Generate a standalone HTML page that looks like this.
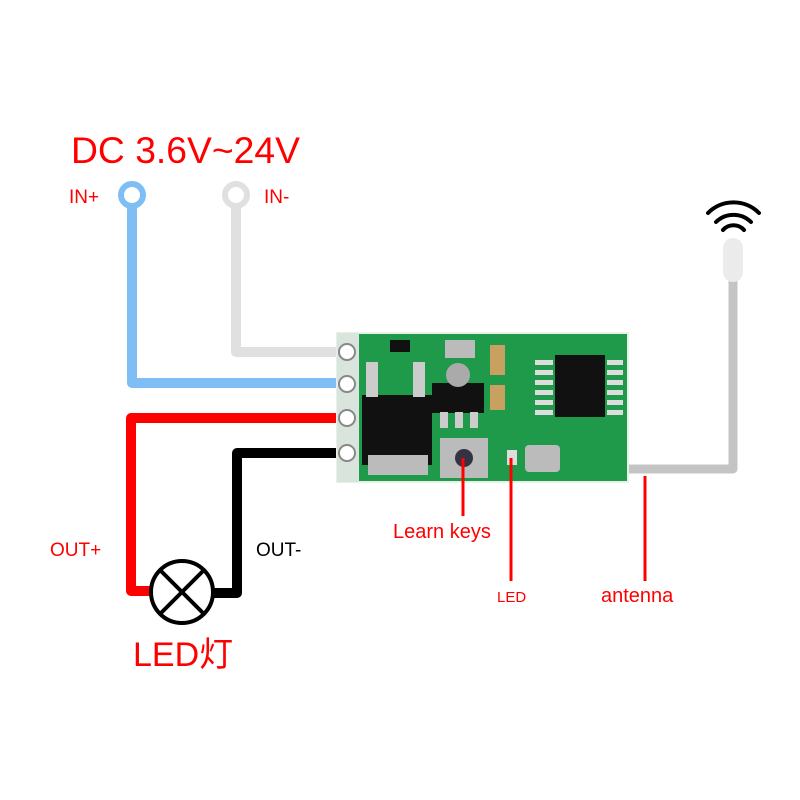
<!DOCTYPE html>
<html><head><meta charset="utf-8"><style>
html,body{margin:0;padding:0;background:#fff;}
svg{display:block}
text{font-family:"Liberation Sans","Noto Sans CJK SC",sans-serif;fill:#f00}
</style></head><body>
<svg width="800" height="800" viewBox="0 0 800 800" xmlns="http://www.w3.org/2000/svg">
<rect width="800" height="800" fill="#fff"/>
<text x="71" y="163" font-size="37" textLength="229" lengthAdjust="spacingAndGlyphs">DC 3.6V~24V</text>
<text x="69" y="203" font-size="19">IN+</text>
<text x="264" y="203" font-size="19">IN-</text>
<!-- wires -->
<path d="M132 205 V383 H345" fill="none" stroke="#7fbef5" stroke-width="10" stroke-linejoin="round"/>
<circle cx="132" cy="195" r="11" fill="none" stroke="#7fbef5" stroke-width="6"/>
<path d="M236 206 V352 H345" fill="none" stroke="#e0e0e0" stroke-width="10" stroke-linejoin="round"/>
<circle cx="236" cy="195" r="11" fill="none" stroke="#e0e0e0" stroke-width="6"/>
<path d="M345 418 H131 V591 H152" fill="none" stroke="#f00" stroke-width="10" stroke-linejoin="round"/>
<path d="M345 453 H237 V593 H212" fill="none" stroke="#000" stroke-width="10" stroke-linejoin="round"/>
<circle cx="182" cy="592" r="31" fill="#fff" stroke="#000" stroke-width="4"/>
<path d="M160 570 L204 614 M204 570 L160 614" stroke="#000" stroke-width="4"/>
<text x="50" y="556" font-size="19">OUT+</text>
<text x="256" y="556" font-size="19" style="fill:#000">OUT-</text>
<text x="133" y="666" font-size="34">LED灯</text>
<!-- antenna -->
<path d="M618 469 H733 V262" fill="none" stroke="#c4c4c4" stroke-width="9" stroke-linejoin="round"/>
<rect x="723" y="238" width="20" height="44" rx="10" fill="#ebebeb"/>
<g fill="none" stroke="#000" stroke-width="4" stroke-linecap="round">
<path d="M708 213 A36 36 0 0 1 759 213"/>
<path d="M716 222 A25 25 0 0 1 751 222"/>
<path d="M723 230 A14 14 0 0 1 744 230"/>
</g>
<!-- PCB -->
<rect x="337" y="333" width="291" height="149" fill="#1f9a4a"/>
<rect x="337" y="333" width="291" height="149" fill="none" stroke="#e8f0e8" stroke-width="2"/>
<rect x="337" y="333" width="22" height="149" fill="#d9e4dc"/>
<g fill="#fff" stroke="#888" stroke-width="2">
<circle cx="347" cy="352" r="8"/><circle cx="347" cy="384" r="8"/>
<circle cx="347" cy="418" r="8"/><circle cx="347" cy="453" r="8"/>
</g>
<rect x="362" y="395" width="70" height="70" fill="#111"/>
<rect x="368" y="455" width="60" height="20" fill="#bbb"/>
<rect x="366" y="362" width="12" height="35" fill="#ccc"/>
<rect x="413" y="362" width="12" height="35" fill="#ccc"/>
<rect x="390" y="340" width="20" height="12" fill="#111"/>
<rect x="432" y="383" width="52" height="30" fill="#111"/>
<circle cx="458" cy="375" r="12" fill="#aaa"/>
<rect x="440" y="412" width="8" height="16" fill="#ccc"/><rect x="455" y="412" width="8" height="16" fill="#ccc"/><rect x="470" y="412" width="8" height="16" fill="#ccc"/>
<rect x="445" y="340" width="30" height="18" fill="#bbb"/>
<rect x="490" y="345" width="15" height="30" fill="#c8a060"/>
<rect x="490" y="385" width="15" height="25" fill="#c8a060"/>
<rect x="440" y="438" width="48" height="40" fill="#bbb"/>
<circle cx="464" cy="458" r="9" fill="#334"/>
<rect x="555" y="355" width="50" height="62" fill="#111"/>
<g fill="#ddd"><rect x="535" y="360" width="18" height="5"/><rect x="535" y="370" width="18" height="5"/><rect x="535" y="380" width="18" height="5"/><rect x="535" y="390" width="18" height="5"/><rect x="535" y="400" width="18" height="5"/><rect x="535" y="410" width="18" height="5"/>
<rect x="607" y="360" width="16" height="5"/><rect x="607" y="370" width="16" height="5"/><rect x="607" y="380" width="16" height="5"/><rect x="607" y="390" width="16" height="5"/><rect x="607" y="400" width="16" height="5"/><rect x="607" y="410" width="16" height="5"/></g>
<rect x="525" y="445" width="35" height="27" rx="4" fill="#bbb"/>
<rect x="507" y="450" width="10" height="15" fill="#ddd"/>
<!-- pointer lines -->
<g stroke="#f00" stroke-width="3">
<line x1="463" y1="458" x2="463" y2="516"/>
<line x1="511" y1="458" x2="511" y2="581"/>
<line x1="645" y1="476" x2="645" y2="581"/>
</g>
<text x="393" y="538" font-size="20">Learn keys</text>
<text x="497" y="602" font-size="15">LED</text>
<text x="601" y="602" font-size="20">antenna</text>
</svg>
</body></html>
